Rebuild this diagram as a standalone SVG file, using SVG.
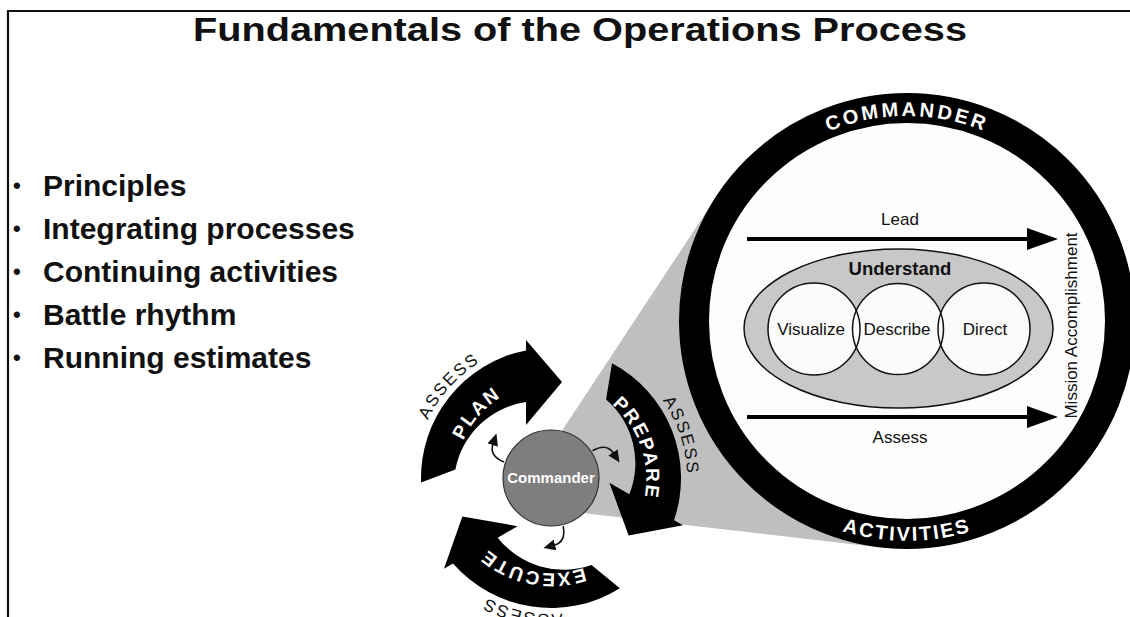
<svg xmlns="http://www.w3.org/2000/svg" width="1130" height="617" viewBox="0 0 1130 617">
<style>
  text{font-family:"Liberation Sans",Arial,Helvetica,sans-serif;fill:#111}
  .b{font-weight:bold}
  .bullet{font-size:30px;font-weight:bold}
  .dot{font-size:22px;font-weight:bold}
  .inner{font-size:17px}
  .ringTxt{font-size:20px;font-weight:bold;fill:#fff;letter-spacing:3px}
  .arrowTxt{font-size:19px;font-weight:bold;fill:#fff;letter-spacing:2px}
  .assess{font-size:17px;fill:#111;letter-spacing:2px}
  .thin{fill:none;stroke:#111;stroke-width:1.6}
  .flow{fill:none;stroke:#000;stroke-width:4}
</style>
<defs>
  <marker id="bigHead" markerWidth="32" markerHeight="22" refX="2" refY="11" orient="auto" markerUnits="userSpaceOnUse">
    <path d="M0,0 L31,11 L0,22 Z" fill="#000"/>
  </marker>
  <marker id="smallHead" markerWidth="13" markerHeight="11" refX="1" refY="5.5" orient="auto" markerUnits="userSpaceOnUse">
    <path d="M0,0 L12,5.5 L0,11 Z" fill="#111"/>
  </marker>
  <path id="cycleArrow" d="M421.1,482.5 A130,130 0 0 1 526,350.4 L526,340 L562,382 L526,425 L526,402 A84,84 0 0 0 455.4,469.6 Z"/>
  <path id="arcIn" d="M486.7,551.9 A98,98 0 0 1 615.3,404.1"/>
  <path id="arcOut" d="M459.9,579.1 A136,136 0 0 1 642.0,376.9"/>
  <path id="ringTop" d="M702,321 A205,205 0 0 1 1112,321"/>
  <path id="ringBottom" d="M687,321 A220,220 0 0 0 1127,321"/>
  <path id="smallArc" d="M504,462 Q489,456 493,444"/>
</defs>

<rect x="0" y="0" width="1130" height="617" fill="#fff"/>

<g id="frame" stroke="#111" stroke-width="2.2" fill="none">
  <path d="M8,617 L8,11 L1130,11"/>
</g>

<text id="title" class="b" x="580" y="41" font-size="33" text-anchor="middle" textLength="774" lengthAdjust="spacingAndGlyphs">Fundamentals of the Operations Process</text>

<g id="bullets">
  <text class="dot" x="13" y="193">•</text><text class="bullet" x="43" y="196">Principles</text>
  <text class="dot" x="13" y="236">•</text><text class="bullet" x="43" y="239">Integrating processes</text>
  <text class="dot" x="13" y="279">•</text><text class="bullet" x="43" y="282">Continuing activities</text>
  <text class="dot" x="13" y="322">•</text><text class="bullet" x="43" y="325">Battle rhythm</text>
  <text class="dot" x="13" y="365">•</text><text class="bullet" x="43" y="368">Running estimates</text>
</g>

<g id="cone">
  <polygon points="513,505 716.8,195.9 907,321 880.9,547.5" fill="#bfbfbf"/>
</g>

<g id="commander-activities-ring">
  <circle cx="907" cy="321" r="213" fill="#fdfdfd" stroke="#000" stroke-width="30"/>
  <text class="ringTxt" text-anchor="middle"><textPath href="#ringTop" startOffset="50%">COMMANDER</textPath></text>
  <text class="ringTxt" text-anchor="middle" style="letter-spacing:2.2px"><textPath href="#ringBottom" startOffset="50%">ACTIVITIES</textPath></text>
</g>

<g id="understand">
  <ellipse cx="898.5" cy="328.5" rx="154.5" ry="79.5" fill="#c8c8c8" stroke="#111" stroke-width="1.5"/>
  <text class="b" x="900" y="275" font-size="18.5" text-anchor="middle">Understand</text>
</g>

<g id="inner-circles">
  <circle cx="814" cy="329" r="46" fill="#fbfbfb"/>
  <circle cx="898" cy="329" r="45.5" fill="#fbfbfb"/>
  <circle cx="984" cy="329" r="46" fill="#fbfbfb"/>
</g>
<g id="visualize">
  <circle cx="814" cy="329" r="46" fill="none" stroke="#111" stroke-width="1.5"/>
  <text class="inner" x="811" y="335" text-anchor="middle">Visualize</text>
</g>
<g id="describe">
  <circle cx="898" cy="329" r="45.5" fill="none" stroke="#111" stroke-width="1.5"/>
  <text class="inner" x="897" y="335" text-anchor="middle">Describe</text>
</g>
<g id="direct">
  <circle cx="984" cy="329" r="46" fill="none" stroke="#111" stroke-width="1.5"/>
  <text class="inner" x="985" y="335" text-anchor="middle">Direct</text>
</g>

<g id="lead-label"><text class="inner" x="900" y="225" text-anchor="middle">Lead</text></g>
<g id="assess-label"><text class="inner" x="900" y="443" text-anchor="middle">Assess</text></g>
<g id="mission-accomplishment">
  <text class="inner" x="0" y="0" text-anchor="middle" transform="translate(1077,325.5) rotate(-90)">Mission Accomplishment</text>
</g>

<g id="plan">
  <use href="#cycleArrow" fill="#000"/>
  <text class="arrowTxt" text-anchor="middle"><textPath href="#arcIn" startOffset="50%">PLAN</textPath></text>
  <text class="assess" text-anchor="middle"><textPath href="#arcOut" startOffset="50%">ASSESS</textPath></text>
</g>
<g id="prepare" transform="rotate(120 551 478)">
  <use href="#cycleArrow" fill="#000"/>
  <text class="arrowTxt" text-anchor="middle"><textPath href="#arcIn" startOffset="50%">PREPARE</textPath></text>
  <text class="assess" text-anchor="middle"><textPath href="#arcOut" startOffset="50%">ASSESS</textPath></text>
</g>
<g id="execute" transform="rotate(240 551 478)">
  <use href="#cycleArrow" fill="#000"/>
  <text class="arrowTxt" text-anchor="middle"><textPath href="#arcIn" startOffset="50%">EXECUTE</textPath></text>
  <text class="assess" text-anchor="middle"><textPath href="#arcOut" startOffset="50%">ASSESS</textPath></text>
</g>

<g id="commander">
  <circle cx="551" cy="478" r="48" fill="#7e7e7e" stroke="#333" stroke-width="1.2"/>
  <text class="b" x="551" y="483" font-size="15" text-anchor="middle" style="fill:#fff">Commander</text>
</g>

<g id="connectors">
  <use href="#smallArc" class="thin" marker-end="url(#smallHead)"/>
  <use href="#smallArc" class="thin" marker-end="url(#smallHead)" transform="rotate(128 551 478)"/>
  <use href="#smallArc" class="thin" marker-end="url(#smallHead)" transform="rotate(237 551 478)"/>
  <line class="flow" x1="747" y1="239" x2="1029" y2="239" marker-end="url(#bigHead)"/>
  <line class="flow" x1="747" y1="417" x2="1029" y2="417" marker-end="url(#bigHead)"/>
</g>
</svg>
